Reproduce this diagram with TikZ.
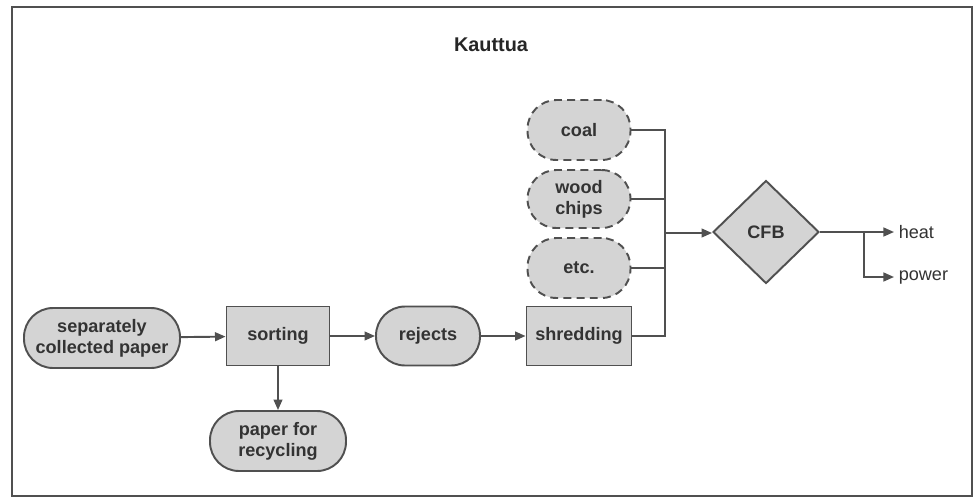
\documentclass[tikz,border=0pt]{standalone}
\usepackage{fontspec}
\setmainfont{Liberation Sans}
\usetikzlibrary{arrows.meta,shapes.geometric}
\definecolor{boxfill}{RGB}{212,212,212}
\definecolor{edge}{RGB}{80,80,80}
\tikzset{
  base/.style={draw=edge, fill=boxfill, line width=1.1pt, inner sep=1pt,
    font=\bfseries\fontsize{10.3}{11.8}\selectfont, text=black!80, align=center},
  stadium/.style={base, rectangle, rounded corners=0.58cm, minimum height=1.2cm},
  fuel/.style={stadium, dash pattern=on 4.5pt off 3pt, minimum width=2.06cm},
  stepbox/.style={base, rectangle, minimum width=2.06cm, minimum height=1.18cm},
  burner/.style={base, diamond, minimum width=2.12cm, minimum height=2.06cm, inner sep=0pt},
  outlabel/.style={font=\fontsize{10.3}{12}\selectfont, text=black!80, anchor=west, inner sep=2.5pt},
  flow/.style={draw=edge, line width=1.1pt, -{Triangle[length=6pt,width=5pt]}},
  link/.style={draw=edge, line width=1.1pt}
}
\begin{document}
\begin{tikzpicture}[x=0.02cm, y=-0.02cm]
  \useasboundingbox (0,0) rectangle (977,498);
  \fill[white] (0,0) rectangle (977,498);
  % outer frame
  \draw[edge, line width=1pt] (12,7) rectangle (972,496);
  \node[font=\bfseries\fontsize{11.3}{13}\selectfont, text=black!85] (title) at (491,45) {Kauttua};

  % main line
  \node[stadium, minimum width=3.12cm] (paper) at (102,338) {separately\\collected paper};
  \node[stepbox] (sorting) at (278,336) {sorting};
  \node[stadium, minimum width=2.72cm] (recycle) at (278,441) {paper for\\recycling};
  \node[stadium, minimum width=2.08cm, minimum height=1.18cm] (rejects) at (428,336) {rejects};
  \node[stepbox, minimum width=2.1cm] (shred) at (579,336) {shredding};

  % other fuels
  \node[fuel] (coal) at (579,130) {coal};
  \node[fuel, minimum height=1.16cm] (wood) at (579,199) {wood\\chips};
  \node[fuel] (etc) at (579,268) {etc.};

  % boiler
  \node[burner] (cfb) at (766,232) {CFB};
  \node[outlabel] (heat) at (894,232) {heat};
  \node[outlabel] (power) at (894,277) {power};

  % collecting bus and branch points
  \coordinate (busT) at (665,130);
  \coordinate (busB) at (665,336);
  \coordinate (busM) at (665,233);
  \coordinate (split) at (864,232);

  \draw[flow] (paper) -- (sorting);
  \draw[flow] (sorting) -- (rejects);
  \draw[flow] (sorting.south) -- (recycle.north);
  \draw[flow] (rejects) -- (shred);

  \draw[link] (coal.east) -- (busT) -- (busB) -- (shred.east);
  \draw[link] (wood.east) -- (wood.east -| busT);
  \draw[link] (etc.east) -- (etc.east -| busT);
  \draw[flow] (busM) -- (cfb.west |- busM);

  \draw[flow] (cfb.east) -- (heat.west);
  \draw[flow] (split) |- (power.west);
\end{tikzpicture}
\end{document}
